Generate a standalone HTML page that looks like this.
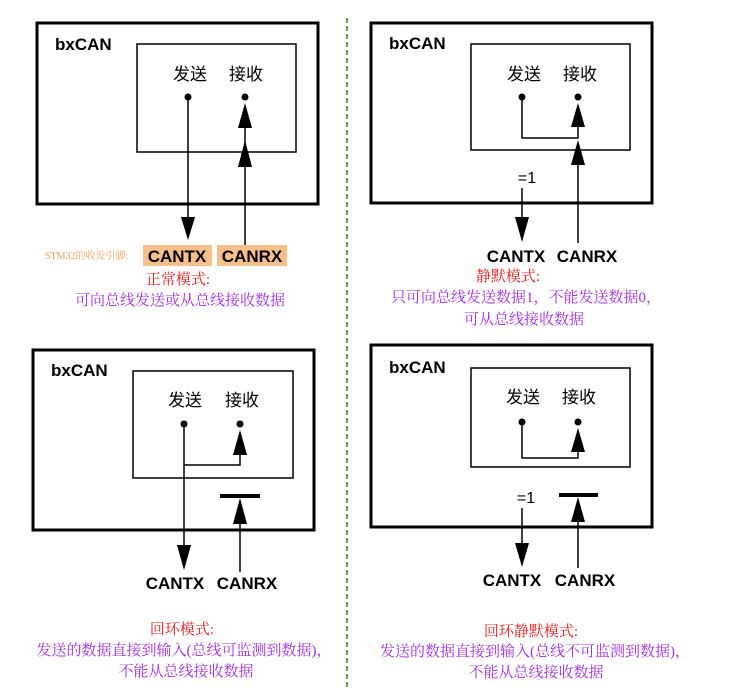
<!DOCTYPE html>
<html><head><meta charset="utf-8"><style>
html,body{margin:0;padding:0;background:#fff;}
svg{display:block;}
.b{font-family:"Liberation Sans",sans-serif;font-weight:bold;fill:#000;}
.c{font-family:"Liberation Sans","Noto Sans CJK SC",sans-serif;fill:#000;}
.s{font-family:"Liberation Serif","Noto Serif CJK SC",serif;}
</style></head><body>
<svg width="732" height="688" viewBox="0 0 732 688" xmlns="http://www.w3.org/2000/svg">
<line x1="347" y1="18" x2="347" y2="688" stroke="#6aa84f" stroke-width="2" stroke-dasharray="5,3"/>

<!-- Panel 1 -->
<rect x="37" y="23" width="281" height="181" fill="none" stroke="#000" stroke-width="3"/>
<rect x="137" y="44" width="159" height="108" fill="none" stroke="#000" stroke-width="1.5"/>
<text x="55" y="50" class="b" font-size="17">bxCAN</text>
<text x="190" y="80" class="c" font-size="17" text-anchor="middle">发送</text>
<text x="246" y="80" class="c" font-size="17" text-anchor="middle">接收</text>
<circle cx="188" cy="97" r="3.5"/><circle cx="245" cy="97" r="3.5"/>
<line x1="188" y1="97" x2="188" y2="220" stroke="#000" stroke-width="1.5"/>
<polygon points="181,217 195,217 188,240"/>
<line x1="245" y1="245" x2="245" y2="120" stroke="#000" stroke-width="1.5"/>
<polygon points="238,167 252,167 245,140"/>
<polygon points="238,128 252,128 245,103"/>
<rect x="143" y="245" width="69" height="21" fill="#f7c08a"/>
<rect x="217" y="245" width="70" height="21" fill="#f7c08a"/>
<text x="177" y="262" class="b" font-size="17" text-anchor="middle">CANTX</text>
<text x="252" y="262" class="b" font-size="17" text-anchor="middle">CANRX</text>
<text x="45" y="259" class="s" font-size="10" fill="#f0a060">STM32的收发引脚:</text>
<text x="178" y="284" class="s" font-size="15" fill="#e02020" text-anchor="middle">正常模式:</text>
<text x="180" y="305" class="s" font-size="15" fill="#a030e0" text-anchor="middle">可向总线发送或从总线接收数据</text>

<!-- Panel 2 -->
<rect x="371" y="23" width="281" height="180" fill="none" stroke="#000" stroke-width="3"/>
<rect x="471" y="44" width="159" height="106" fill="none" stroke="#000" stroke-width="1.5"/>
<text x="389" y="49" class="b" font-size="17">bxCAN</text>
<text x="524" y="80" class="c" font-size="17" text-anchor="middle">发送</text>
<text x="580" y="80" class="c" font-size="17" text-anchor="middle">接收</text>
<circle cx="522" cy="97" r="3.5"/><circle cx="578" cy="97" r="3.5"/>
<polyline points="522,97 522,138 578,138 578,120" fill="none" stroke="#000" stroke-width="1.5"/>
<polygon points="571,127 585,127 578,103"/>
<line x1="578" y1="243" x2="578" y2="150" stroke="#000" stroke-width="1.5"/>
<polygon points="571,165 585,165 578,140"/>
<text x="527" y="183" class="c" font-size="16" text-anchor="middle">=1</text>
<line x1="522" y1="188" x2="522" y2="220" stroke="#000" stroke-width="1.5"/>
<polygon points="515,217 529,217 522,242"/>
<text x="516" y="262" class="b" font-size="17" text-anchor="middle">CANTX</text>
<text x="587" y="262" class="b" font-size="17" text-anchor="middle">CANRX</text>
<text x="508" y="281" class="s" font-size="15" fill="#e02020" text-anchor="middle">静默模式:</text>
<text x="526" y="302" class="s" font-size="15" fill="#a030e0" text-anchor="middle">只可向总线发送数据1，不能发送数据0，</text>
<text x="524" y="324" class="s" font-size="15" fill="#a030e0" text-anchor="middle">可从总线接收数据</text>

<!-- Panel 3 -->
<rect x="33" y="350" width="281" height="180" fill="none" stroke="#000" stroke-width="3"/>
<rect x="133" y="371" width="160" height="107" fill="none" stroke="#000" stroke-width="1.5"/>
<text x="51" y="376" class="b" font-size="17">bxCAN</text>
<text x="185" y="406" class="c" font-size="17" text-anchor="middle">发送</text>
<text x="242" y="406" class="c" font-size="17" text-anchor="middle">接收</text>
<circle cx="184" cy="424" r="3.5"/><circle cx="240" cy="424" r="3.5"/>
<line x1="184" y1="424" x2="184" y2="548" stroke="#000" stroke-width="1.5"/>
<polygon points="177,545 191,545 184,570"/>
<polyline points="184,465 240,465 240,448" fill="none" stroke="#000" stroke-width="1.5"/>
<polygon points="233,455 247,455 240,430"/>
<rect x="220" y="494" width="40" height="4"/>
<polygon points="233,524 247,524 240,498"/>
<line x1="240" y1="520" x2="240" y2="572" stroke="#000" stroke-width="1.5"/>
<text x="175" y="589" class="b" font-size="17" text-anchor="middle">CANTX</text>
<text x="247" y="589" class="b" font-size="17" text-anchor="middle">CANRX</text>
<text x="182" y="634" class="s" font-size="15" fill="#e02020" text-anchor="middle">回环模式:</text>
<text x="184" y="655" class="s" font-size="15" fill="#a030e0" text-anchor="middle">发送的数据直接到输入(总线可监测到数据)，</text>
<text x="186" y="676" class="s" font-size="15" fill="#a030e0" text-anchor="middle">不能从总线接收数据</text>

<!-- Panel 4 -->
<rect x="371" y="345" width="281" height="182" fill="none" stroke="#000" stroke-width="3"/>
<rect x="471" y="368" width="159" height="99" fill="none" stroke="#000" stroke-width="1.5"/>
<text x="389" y="373" class="b" font-size="17">bxCAN</text>
<text x="523" y="403" class="c" font-size="17" text-anchor="middle">发送</text>
<text x="579" y="403" class="c" font-size="17" text-anchor="middle">接收</text>
<circle cx="522" cy="422" r="3.5"/><circle cx="578" cy="422" r="3.5"/>
<polyline points="522,422 522,458 578,458 578,445" fill="none" stroke="#000" stroke-width="1.5"/>
<polygon points="571,452 585,452 578,428"/>
<rect x="559" y="493" width="39" height="4"/>
<polygon points="571,522 585,522 578,497"/>
<line x1="578" y1="518" x2="578" y2="568" stroke="#000" stroke-width="1.5"/>
<text x="526" y="503" class="c" font-size="16" text-anchor="middle">=1</text>
<line x1="522" y1="508" x2="522" y2="546" stroke="#000" stroke-width="1.5"/>
<polygon points="515,543 529,543 522,567"/>
<text x="512" y="586" class="b" font-size="17" text-anchor="middle">CANTX</text>
<text x="585" y="586" class="b" font-size="17" text-anchor="middle">CANRX</text>
<text x="531" y="636" class="s" font-size="15" fill="#e02020" text-anchor="middle">回环静默模式:</text>
<text x="535" y="656" class="s" font-size="15" fill="#a030e0" text-anchor="middle">发送的数据直接到输入(总线不可监测到数据)，</text>
<text x="536" y="677" class="s" font-size="15" fill="#a030e0" text-anchor="middle">不能从总线接收数据</text>
</svg>
</body></html>
